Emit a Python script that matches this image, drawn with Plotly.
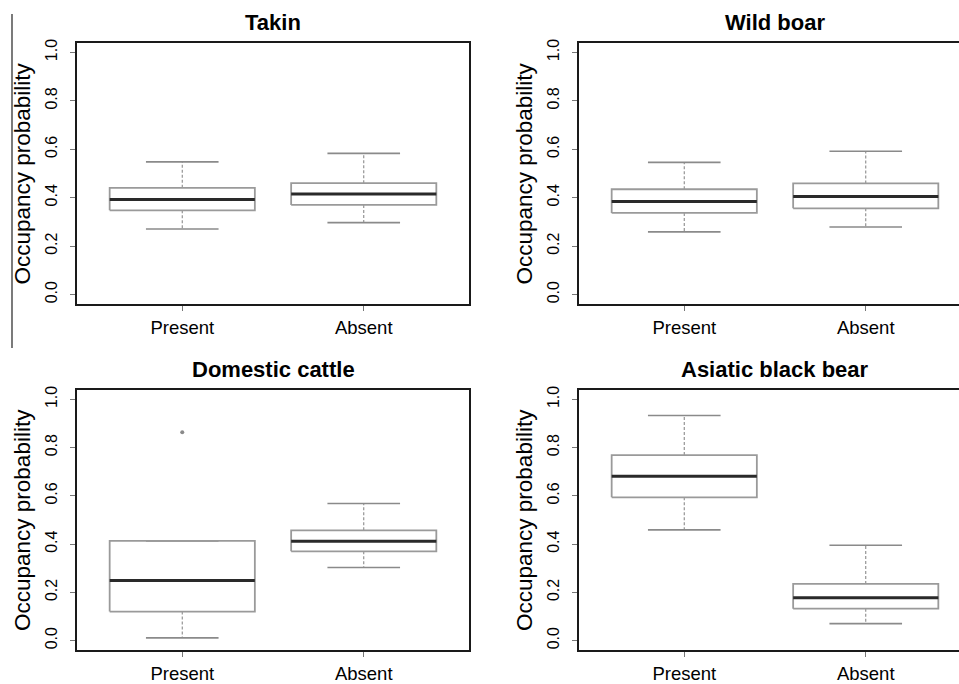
import plotly.graph_objects as go

# ---------------- data ----------------
categories = ["Present", "Absent"]
species = ["Takin", "Wild boar", "Domestic cattle", "Asiatic black bear"]

whisker_low = [[0.271, 0.297], [0.259, 0.279], [0.011, 0.303], [0.459, 0.070]]
q1 = [[0.348, 0.370], [0.337, 0.356], [0.120, 0.370], [0.594, 0.132]]
median = [[0.393, 0.415], [0.384, 0.405], [0.249, 0.412], [0.681, 0.177]]
q3 = [[0.441, 0.460], [0.435, 0.459], [0.413, 0.457], [0.769, 0.235]]
whisker_high = [[0.548, 0.583], [0.546, 0.592], [0.413, 0.568], [0.933, 0.395]]
outliers = [[[], []], [[], []], [[0.864], []], [[], []]]

y_ticks = [0.0, 0.2, 0.4, 0.6, 0.8, 1.0]
y_tick_labels = ["0.0", "0.2", "0.4", "0.6", "0.8", "1.0"]
y_title = "Occupancy probability"

# ---------------- layout geometry ----------------
W, H = 959, 684
FONT = "Liberation Sans, Arial, Helvetica, sans-serif"
BOX_HALF = 0.4
CAP_HALF = 0.2
X_LO, X_HI = 0.42, 2.58
px_per_unit = (469 - 77) / (X_HI - X_LO)

col_px = [(77, 469, X_HI), (579, 959, X_LO + (959 - 579) / px_per_unit)]
row_px = [(39, 302), (388, 650)]

fig = go.Figure()
layout = dict(
    width=W, height=H, margin=dict(l=0, r=0, t=0, b=0),
    plot_bgcolor="white", paper_bgcolor="white", showlegend=False,
    font=dict(family=FONT, color="black"),
)
annotations = []

BOX_COLOR = "#9a9a9a"
WHISK_COLOR = "#8a8a8a"
MED_COLOR = "#2a2a2a"

for k, name in enumerate(species):
    r, c = divmod(k, 2)
    left, right, xend = col_px[c]
    top, bottom = row_px[r]
    sfx = "" if k == 0 else str(k + 1)
    xa, ya = "x" + sfx, "y" + sfx

    bx, by, mx, my, wx, wy, cx_, cy_, ox, oy = [], [], [], [], [], [], [], [], [], []
    for i in range(len(categories)):
        ctr = i + 1
        bx += [ctr - BOX_HALF, ctr + BOX_HALF, ctr + BOX_HALF, ctr - BOX_HALF, ctr - BOX_HALF, None]
        by += [q1[k][i], q1[k][i], q3[k][i], q3[k][i], q1[k][i], None]
        mx += [ctr - BOX_HALF, ctr + BOX_HALF, None]
        my += [median[k][i], median[k][i], None]
        wx += [ctr, ctr, None, ctr, ctr, None]
        wy += [q3[k][i], whisker_high[k][i], None, q1[k][i], whisker_low[k][i], None]
        cx_ += [ctr - CAP_HALF, ctr + CAP_HALF, None, ctr - CAP_HALF, ctr + CAP_HALF, None]
        cy_ += [whisker_high[k][i], whisker_high[k][i], None, whisker_low[k][i], whisker_low[k][i], None]
        for v in outliers[k][i]:
            ox.append(ctr)
            oy.append(v)

    common = dict(xaxis=xa, yaxis=ya, mode="lines", hoverinfo="skip", showlegend=False)
    fig.add_trace(go.Scatter(x=wx, y=wy, line=dict(color=WHISK_COLOR, width=1.1, dash="3px,2px"), **common))
    fig.add_trace(go.Scatter(x=cx_, y=cy_, line=dict(color=WHISK_COLOR, width=1.6), **common))
    fig.add_trace(go.Scatter(x=bx, y=by, line=dict(color=BOX_COLOR, width=1.8), **common))
    fig.add_trace(go.Scatter(x=mx, y=my, line=dict(color=MED_COLOR, width=3), **common))
    if ox:
        fig.add_trace(go.Scatter(x=ox, y=oy, xaxis=xa, yaxis=ya, mode="markers",
                                 marker=dict(color="#8a8a8a", size=4), hoverinfo="skip",
                                 showlegend=False))

    layout["xaxis" + sfx] = dict(
        domain=[left / W, right / W], range=[X_LO, xend], anchor=ya,
        tickvals=[1, 2], ticktext=categories, ticks="outside", ticklen=5,
        tickcolor="#777", tickwidth=1, showgrid=False, zeroline=False,
        showline=True, linecolor="#1a1a1a", linewidth=2, mirror=True,
        tickfont=dict(size=18.5, family=FONT, color="black"), fixedrange=True,
        ticklabelstandoff=1,
    )
    layout["yaxis" + sfx] = dict(
        domain=[1 - bottom / H, 1 - top / H], range=[-0.04, 1.04], anchor=xa,
        tickvals=y_ticks, ticktext=y_tick_labels, ticks="outside", ticklen=5,
        tickcolor="#777", tickwidth=1, tickangle=-90, showgrid=False, zeroline=False,
        showline=True, linecolor="#1a1a1a", linewidth=2, mirror=(c == 0),
        tickfont=dict(size=16, family=FONT, color="black"), fixedrange=True,
        ticklabelstandoff=7,
    )

    full_right = left + (X_HI - X_LO) * px_per_unit
    annotations.append(dict(
        text="<b>%s</b>" % name, xref="paper", yref="paper",
        x=(left + full_right) / 2 / W, y=1 - (top - 20) / H,
        xanchor="center", yanchor="middle", showarrow=False,
        font=dict(size=22, family=FONT, color="black"),
    ))
    annotations.append(dict(
        text=y_title, xref="paper", yref="paper",
        x=(left - 54) / W, y=1 - (top + bottom) / 2 / H,
        xanchor="center", yanchor="middle", textangle=-90, showarrow=False,
        font=dict(size=22.5, family=FONT, color="black"),
    ))

layout["annotations"] = annotations
layout["shapes"] = [dict(type="line", xref="paper", yref="paper",
                         x0=12 / W, x1=12 / W, y0=1 - 10 / H, y1=1 - 346 / H,
                         line=dict(color="#222", width=1.2))]
fig.update_layout(**layout)
fig.write_html(
    "out.html",
    config={"displayModeBar": False, "staticPlot": True},
    post_script="document.body.style.margin='0';document.body.style.padding='0';"
                "document.body.style.overflow='hidden';",
)
